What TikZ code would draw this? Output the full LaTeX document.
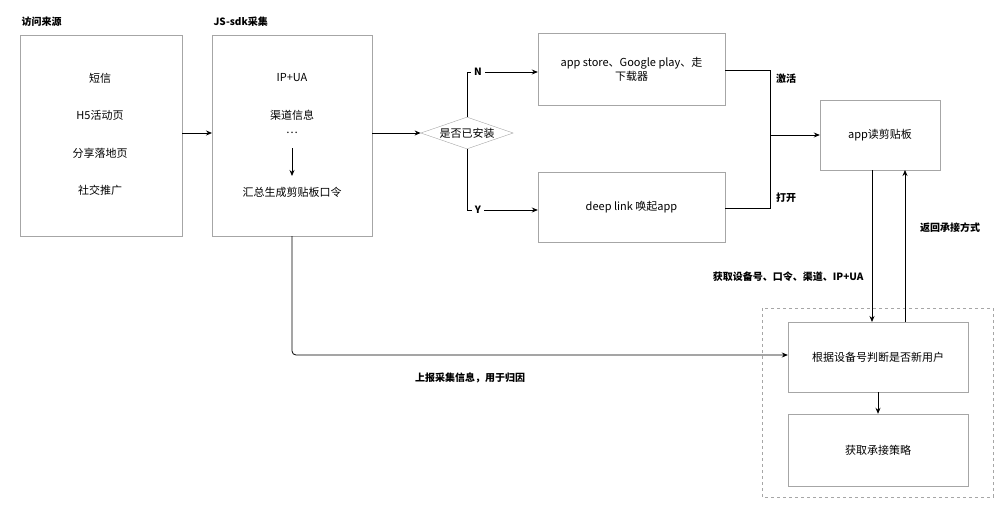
\documentclass[tikz,border=0pt]{standalone}
\usepackage{fontspec}
\setmainfont{Noto Sans CJK SC}
\usetikzlibrary{shapes.geometric,arrows.meta}
\begin{document}
\begin{tikzpicture}[x=1pt,y=-1pt,
 box/.style={draw=black!35,fill=white,minimum width=#1,align=center,font=\fontsize{11}{14}\selectfont},
 txt/.style={font=\fontsize{11}{13}\selectfont},
 lbl/.style={font=\bfseries\fontsize{10}{12}\selectfont},
 arr/.style={-{Stealth[length=6pt,width=5pt]},line width=0.8pt}]
\useasboundingbox (0,0) rectangle (1008,522);
\node[lbl,anchor=west] (l1) at (18,22) {访问来源};
\node[lbl,anchor=west] (l2) at (210,22) {JS-sdk采集};
\draw[black!35] (20,35) rectangle (182,236);
\node[coordinate] (b1r) at (182,133) {};
\node[txt] (t11) at (100,78) {短信};
\node[txt] (t12) at (100,115) {H5活动页};
\node[txt] (t13) at (100,153) {分享落地页};
\node[txt] (t14) at (100,190) {社交推广};
\draw[black!35] (212,35) rectangle (372,236);
\node[coordinate] (b2l) at (212,133) {};
\node[coordinate] (b2r) at (372,133) {};
\node[coordinate] (b2b) at (292,236) {};
\node[txt] (t21) at (292,78) {IP+UA};
\node[txt] (t22) at (292,115) {渠道信息};
\node[txt] (t23) at (292,133) {…};
\node[txt] (t24) at (292,192) {汇总生成剪贴板口令};
\draw[arr] (292,148) -- (292,176);
\draw[arr] (b1r) -- (b2l);
\node[diamond,draw=black!35,aspect=2.9,inner sep=1pt,txt] (d) at (467,133) {是否已安装};
\draw[arr] (b2r) -- (d.west);
\node[box=187pt,minimum height=72pt] (b3) at (631.5,69) {app store、Google play、走\\下载器};
\node[box=187pt,minimum height=70pt] (b4) at (631.5,207) {deep link 唤起app};
\node[box=120pt,minimum height=70pt] (b5) at (880,135) {app读剪贴板};
\draw[black!35,dashed] (762,308) rectangle (993,497);
\node[box=180pt,minimum height=70pt] (b6) at (878,357) {根据设备号判断是否新用户};
\node[box=180pt,minimum height=72pt] (b7) at (878,450) {获取承接策略};
\draw[arr] (d.north) -- (467,72) -- (b3.west|-0,72);
\node[lbl] (n) at (478,72) [fill=white] {N};
\draw[arr] (d.south) -- (467,210) -- (b4.west|-0,210);
\node[lbl] (y) at (478,210) [fill=white] {Y};
\draw[line width=0.8pt] (b3.east|-0,70) -- (770,70) -- (770,208) -- (b4.east|-0,208);
\draw[arr] (770,135) -- (b5.west);
\node[lbl] (jh) at (786,79) {激活};
\node[lbl] (dk) at (786,198) {打开};
\draw[arr] (872,170) -- (872,322);
\draw[arr] (905,322) -- (905,170);
\node[lbl,anchor=east] (g) at (867,277) {获取设备号、口令、渠道、IP+UA};
\node[lbl] (fh) at (950,228) {返回承接方式};
\draw[arr] (b6.south) -- (b7.north);
\draw[arr,rounded corners=4pt] (b2b) -- (292,355) -- (b6.west|-0,355);
\node[lbl] (sb) at (470,378) {上报采集信息，用于归因};
\end{tikzpicture}
\end{document}
